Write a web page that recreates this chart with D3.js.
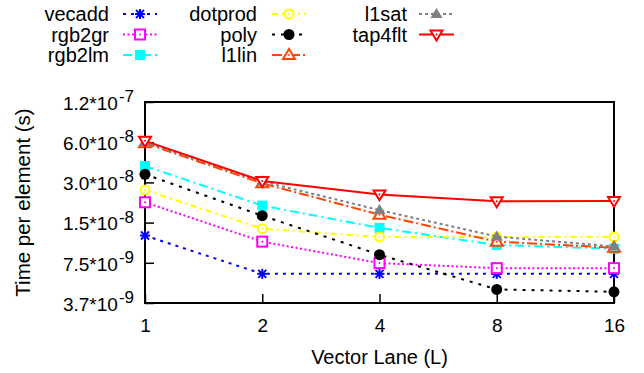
<!DOCTYPE html>
<html lang="en">
<head>
<meta charset="UTF-8" />
<title>Time per element</title>
<script src="https://d3js.org/d3.v7.min.js"></script>
<style>
  body { margin: 0; background: #fff; }
  text { font-family: "Liberation Sans", Arial, sans-serif; fill: #000; }
</style>
</head>
<body>
<div id="chart"></div>
<script>
// data
const lanes = [1, 2, 4, 8, 16];
const seriesNames = ["vecadd", "rgb2gr", "rgb2lm", "dotprod", "poly", "l1lin", "l1sat", "tap4flt"];
const vecadd  = [1.20e-8, 6.2e-9, 6.2e-9, 6.2e-9, 6.2e-9];
const rgb2gr  = [2.13e-8, 1.08e-8, 7.46e-9, 6.84e-9, 6.84e-9];
const rgb2lm  = [3.98e-8, 2.01e-8, 1.37e-8, 1.02e-8, 9.56e-9];
const dotprod = [2.63e-8, 1.35e-8, 1.17e-8, 1.17e-8, 1.17e-8];
const poly    = [3.45e-8, 1.69e-8, 8.62e-9, 4.74e-9, 4.55e-9];
const l1lin   = [5.90e-8, 2.95e-8, 1.72e-8, 1.08e-8, 9.72e-9];
const l1sat   = [6.00e-8, 3.05e-8, 1.86e-8, 1.18e-8, 9.95e-9];
const tap4flt = [6.14e-8, 3.07e-8, 2.44e-8, 2.17e-8, 2.18e-8];
const yTickValues = [3.75e-9, 7.5e-9, 1.5e-8, 3.0e-8, 6.0e-8, 1.2e-7];
const yTickMantissa = ["3.7", "7.5", "1.5", "3.0", "6.0", "1.2"];
const yTickExponent = ["-9", "-9", "-8", "-8", "-8", "-7"];

const seriesValues = [vecadd, rgb2gr, rgb2lm, dotprod, poly, l1lin, l1sat, tap4flt];

// styles per series
const styles = [
  { color: "#0000ff", dash: "3,5", marker: "star" },
  { color: "#ff00ff", dash: "2,2.5", marker: "squareOpen" },
  { color: "#00ffff", dash: "9,4,2,4", marker: "square" },
  { color: "#ffff00", dash: "6,4,2,4", marker: "circleOpen" },
  { color: "#000000", dash: "3,6", marker: "circle" },
  { color: "#ff4500", dash: "10,3,2,3", marker: "triOpen" },
  { color: "#808080", dash: "3,3", marker: "tri" },
  { color: "#ff0000", dash: null, marker: "triDownOpen" }
];

const W = 644, H = 373;
const plot = { left: 145, right: 614, top: 102, bottom: 303 };

const svg = d3.select("#chart").append("svg")
  .attr("width", W).attr("height", H);

const x = d3.scaleLog().base(2).domain([1, 16]).range([plot.left, plot.right]);
const y = d3.scaleLog().domain([3.75e-9, 1.2e-7]).range([plot.bottom, plot.top]);

// axes
const xAxis = svg.append("g")
  .attr("transform", `translate(0,${plot.bottom})`)
  .call(d3.axisBottom(x).tickValues(lanes).tickFormat(d3.format("d"))
    .tickSizeInner(-9).tickSizeOuter(0).tickPadding(16));
xAxis.select(".domain").remove();
xAxis.selectAll(".tick line").attr("stroke", "#000").attr("stroke-width", 1.5);
xAxis.selectAll(".tick text").style("font-size", "19px").attr("font-family", null);

const yAxis = svg.append("g")
  .attr("transform", `translate(${plot.left},0)`)
  .call(d3.axisLeft(y).tickValues(yTickValues).tickFormat("")
    .tickSizeInner(-9).tickSizeOuter(0).tickPadding(11));
yAxis.select(".domain").remove();
yAxis.selectAll(".tick line").attr("stroke", "#000").attr("stroke-width", 1.5);
yAxis.selectAll(".tick text").each(function (d, i) {
  const t = d3.select(this).attr("font-family", null).style("font-size", "19px").attr("dy", "0.38em");
  t.append("tspan").text(yTickMantissa[i] + "*10");
  t.append("tspan").attr("dy", "-0.45em").attr("dx", 1).style("font-size", "17px").text(yTickExponent[i]);
});

// frame
svg.append("rect")
  .attr("x", plot.left).attr("y", plot.top)
  .attr("width", plot.right - plot.left).attr("height", plot.bottom - plot.top)
  .attr("fill", "none").attr("stroke", "#000").attr("stroke-width", 2);

// axis titles
svg.append("text")
  .attr("x", (plot.left + plot.right) / 2).attr("y", 364)
  .attr("text-anchor", "middle").style("font-size", "20px")
  .text("Vector Lane (L)");
svg.append("text")
  .attr("transform", `translate(23,${(plot.top + plot.bottom) / 2}) rotate(-90)`)
  .attr("dy", "0.35em")
  .attr("text-anchor", "middle").style("font-size", "20.5px")
  .text("Time per element (s)");

// markers
function drawMarker(g, type, color, cx, cy) {
  const s = 5;
  if (type === "star") {
    const gg = g.append("g").attr("stroke", color).attr("stroke-width", 2);
    gg.append("line").attr("x1", cx - s).attr("x2", cx + s).attr("y1", cy).attr("y2", cy);
    gg.append("line").attr("x1", cx).attr("x2", cx).attr("y1", cy - s).attr("y2", cy + s);
    gg.append("line").attr("x1", cx - 4).attr("x2", cx + 4).attr("y1", cy - 4).attr("y2", cy + 4);
    gg.append("line").attr("x1", cx - 4).attr("x2", cx + 4).attr("y1", cy + 4).attr("y2", cy - 4);
  } else if (type === "square" || type === "squareOpen") {
    const open = type === "squareOpen";
    g.append("rect").attr("x", cx - s).attr("y", cy - s).attr("width", 2 * s).attr("height", 2 * s)
      .attr("fill", open ? "#fff" : color).attr("stroke", color).attr("stroke-width", open ? 2 : 0);
    if (open) g.append("circle").attr("cx", cx).attr("cy", cy).attr("r", 1).attr("fill", color);
  } else if (type === "circle" || type === "circleOpen") {
    const open = type === "circleOpen";
    g.append("circle").attr("cx", cx).attr("cy", cy).attr("r", open ? 4.5 : 5.5)
      .attr("fill", open ? "#fff" : color).attr("stroke", color).attr("stroke-width", open ? 2 : 0);
    if (open) g.append("circle").attr("cx", cx).attr("cy", cy).attr("r", 1).attr("fill", color);
  } else {
    const open = type !== "tri";
    const down = type === "triDownOpen";
    const pts = down
      ? [[cx - 6, cy - 4], [cx + 6, cy - 4], [cx, cy + 6]]
      : [[cx - 6, cy + 4], [cx + 6, cy + 4], [cx, cy - 6]];
    g.append("polygon").attr("points", pts.map(p => p.join(",")).join(" "))
      .attr("fill", open ? "#fff" : color).attr("stroke", color).attr("stroke-width", open ? 2 : 0);
    if (open) g.append("circle").attr("cx", cx).attr("cy", cy).attr("r", 1).attr("fill", color);
  }
}

const line = d3.line().x(d => x(d[0])).y(d => y(d[1]));

seriesNames.forEach((name, i) => {
  const st = styles[i];
  const pts = lanes.map((l, j) => [l, seriesValues[i][j]]);
  const g = svg.append("g").attr("class", "series-" + name);
  g.append("path").datum(pts).attr("d", line)
    .attr("fill", "none").attr("stroke", st.color).attr("stroke-width", 2)
    .attr("stroke-dasharray", st.dash);
  pts.forEach(p => drawMarker(g, st.marker, st.color, x(p[0]), y(p[1])));
});

// legend: 3 rows, column-major
const legendCols = [{ textX: 109, lineX: [123, 157] }, { textX: 257, lineX: [272, 306] }, { textX: 407, lineX: [419, 454] }];
const legendRowY = [14, 34.5, 55];
seriesNames.forEach((name, i) => {
  const col = legendCols[Math.floor(i / 3)];
  const ry = legendRowY[i % 3];
  const st = styles[i];
  const g = svg.append("g").attr("class", "legend");
  g.append("text").attr("x", col.textX).attr("y", ry).attr("dy", "0.36em")
    .attr("text-anchor", "end").style("font-size", "20px").text(name);
  g.append("line").attr("x1", col.lineX[0]).attr("x2", col.lineX[1]).attr("y1", ry).attr("y2", ry)
    .attr("stroke", st.color).attr("stroke-width", 2).attr("stroke-dasharray", st.dash);
  drawMarker(g, st.marker, st.color, (col.lineX[0] + col.lineX[1]) / 2, ry);
});
</script>
</body>
</html>
